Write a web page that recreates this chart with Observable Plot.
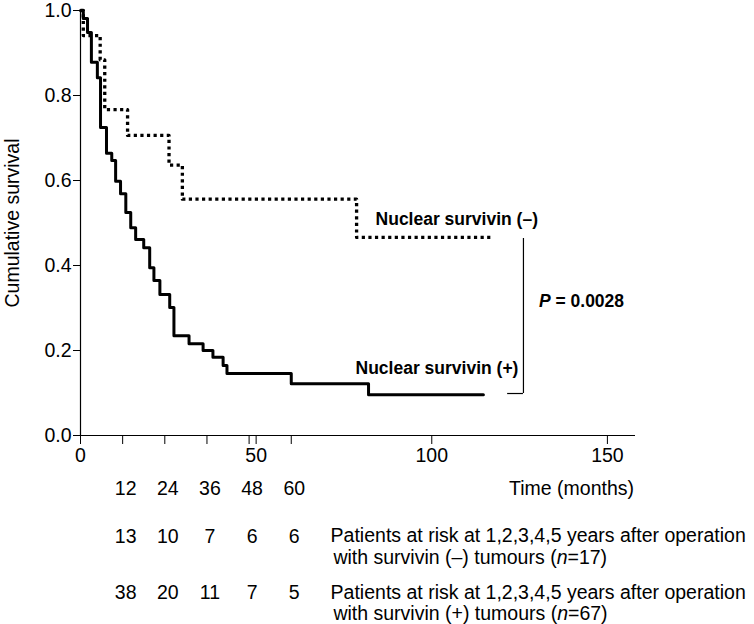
<!DOCTYPE html>
<html>
<head>
<meta charset="utf-8">
<script src="https://cdn.jsdelivr.net/npm/d3@7"></script>
<script src="https://cdn.jsdelivr.net/npm/@observablehq/plot@0.6"></script>
<style>
  html, body { margin: 0; padding: 0; background: #fff; }
  #chart svg { display: block; }
</style>
</head>
<body>
<div id="chart"></div>
<script>
// ---- Data ----
// Nuclear survivin (+) Kaplan–Meier steps (months, cumulative survival after the drop)
const posTime = [0, 0.8, 2.0, 3.1, 4.8, 5.7, 7.4, 8.9, 10.0, 11.4, 12.9, 14.3, 15.7, 18.0, 19.7, 20.9, 22.6, 25.4, 26.6, 30.9, 34.9, 37.7, 40.6, 41.7, 60.0, 82.0, 114.7];
const posSurv = [1.0, 0.981, 0.948, 0.878, 0.842, 0.725, 0.664, 0.647, 0.598, 0.569, 0.525, 0.489, 0.461, 0.442, 0.395, 0.365, 0.332, 0.301, 0.235, 0.216, 0.200, 0.184, 0.165, 0.146, 0.122, 0.096, 0.096];
// Nuclear survivin (–)
const negTime = [0, 0.8, 5.6, 6.9, 13.4, 25.2, 29.0, 78.6, 117.3];
const negSurv = [1.0, 0.941, 0.884, 0.767, 0.706, 0.636, 0.556, 0.466, 0.466];

const xTicks = [0, 50, 100, 150];
const yTicks = [0, 0.2, 0.4, 0.6, 0.8, 1.0];
const yearMonths = [12, 24, 36, 48, 60];
const riskNeg = [13, 10, 7, 6, 6];
const riskPos = [38, 20, 11, 7, 5];

const labelNeg = "Nuclear survivin (–)";
const labelPos = "Nuclear survivin (+)";
const pText = "P = 0.0028";
const yLabel = "Cumulative survival";
const xLabel = "Time (months)";
const riskNegText = ["Patients at risk at 1,2,3,4,5 years after operation", "with survivin (–) tumours (n=17)"];
const riskPosText = ["Patients at risk at 1,2,3,4,5 years after operation", "with survivin (+) tumours (n=67)"];

// tables built from the arrays
const posData = posTime.map((t, i) => ({t, s: posSurv[i]}));
const negData = negTime.map((t, i) => ({t, s: negSurv[i]}));
const monthRow = yearMonths.map((m) => ({m, v: String(m)}));
const negRow = yearMonths.map((m, i) => ({m, v: String(riskNeg[i])}));
const posRow = yearMonths.map((m, i) => ({m, v: String(riskPos[i])}));

const font = '"Liberation Sans", Arial, Helvetica, sans-serif';
const boldSize = 17.5;

const chart = Plot.plot({
  width: 754,
  height: 624,
  marginLeft: 80,
  marginRight: 119,
  marginTop: 10,
  marginBottom: 189,
  style: {fontFamily: font, fontSize: "19.5px", color: "#000", background: "#fff", overflow: "visible"},
  x: {domain: [0, 158]},
  y: {domain: [0, 1]},
  marks: [
    // axis lines
    Plot.ruleX([0], {y1: 0, y2: 1, strokeWidth: 1.2}),
    Plot.ruleY([0], {x1: 0, x2: 158, strokeWidth: 1.2}),
    Plot.axisY({ticks: yTicks, tickFormat: d3.format(".1f"), tickSize: 7, tickPadding: 2, label: null}),
    Plot.axisX({ticks: xTicks, tickFormat: d3.format("d"), tickSize: 9, tickPadding: 4, label: null}),
    Plot.axisX({ticks: yearMonths, tickFormat: () => "", tickSize: 9, label: null}),

    // survival curves
    Plot.line(negData, {x: "t", y: "s", curve: "step-after", stroke: "#000", strokeWidth: 3.3, strokeDasharray: "3.2,3.4", strokeLinecap: "butt"}),
    Plot.line(posData, {x: "t", y: "s", curve: "step-after", stroke: "#000", strokeWidth: 3}),

    // curve labels
    Plot.text([labelNeg], {x: () => 84.0, y: () => 0.508, textAnchor: "start", fontWeight: "bold", fontSize: boldSize}),
    Plot.text([labelPos], {x: () => 78.3, y: () => 0.158, textAnchor: "start", fontWeight: "bold", fontSize: boldSize}),

    // bracket with P value
    Plot.ruleX([126.1], {y1: 0.4635, y2: 0.0988, strokeWidth: 1.2}),
    Plot.ruleY([0.0988], {x1: 121.6, x2: 126.1, strokeWidth: 1.2}),
    Plot.text([pText], {x: () => 130.5, y: () => 0.315, textAnchor: "start", fontWeight: "bold", fontSize: boldSize}),

    // y label
    Plot.text([yLabel], {frameAnchor: "left", textAnchor: "middle", rotate: -90, dx: -68}),

    // x label and at-risk table
    Plot.text([xLabel], {x: () => 122.0, y: () => -0.1247, textAnchor: "start"}),
    Plot.text(monthRow, {x: "m", y: () => -0.1247, text: "v", dx: 3}),
    Plot.text(negRow, {x: "m", y: () => -0.2376, text: "v", dx: 3}),
    Plot.text(posRow, {x: "m", y: () => -0.3694, text: "v", dx: 3}),
    Plot.text([riskNegText[0]], {x: () => 71.2, y: () => -0.2353, textAnchor: "start"}),
    Plot.text([riskNegText[1]], {x: () => 72.0, y: () => -0.2871, textAnchor: "start"}),
    Plot.text([riskPosText[0]], {x: () => 71.2, y: () => -0.3694, textAnchor: "start"}),
    Plot.text([riskPosText[1]], {x: () => 72.0, y: () => -0.4188, textAnchor: "start"})
  ]
});

// italic "n" and "P" via tspans (text stays real text)
d3.select(chart).selectAll("text").each(function () {
  const t = this.textContent;
  const el = d3.select(this);
  let m;
  if ((m = t.match(/^(.*\()n(=\d+\))$/))) {
    el.text(null);
    el.append("tspan").text(m[1]);
    el.append("tspan").attr("font-style", "italic").text("n");
    el.append("tspan").text(m[2]);
  } else if (t === pText) {
    el.text(null);
    el.append("tspan").attr("font-style", "italic").text("P");
    el.append("tspan").text(t.slice(1));
  }
});

document.getElementById("chart").appendChild(chart);
</script>
</body>
</html>
